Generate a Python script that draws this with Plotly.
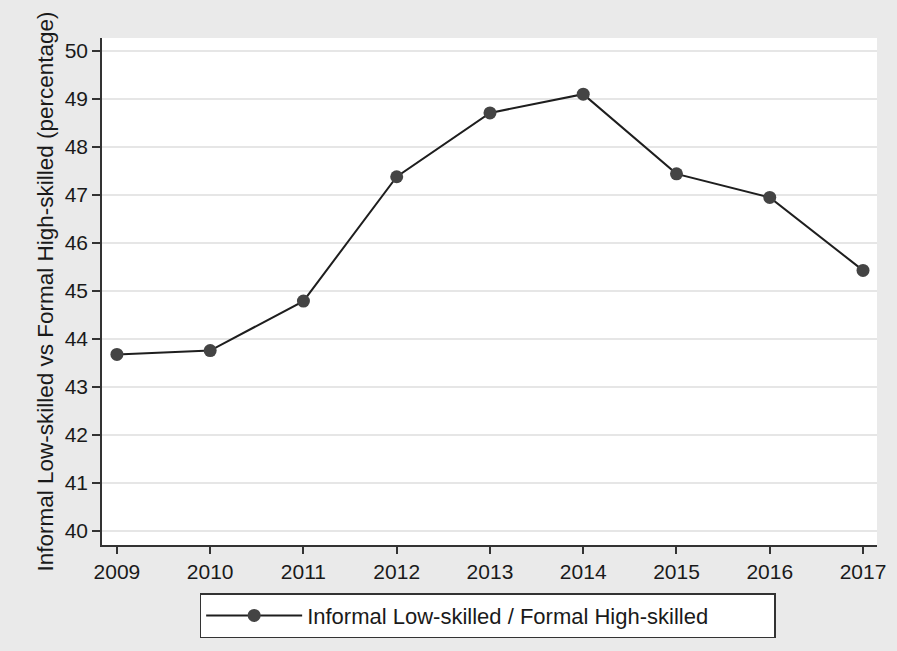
import plotly.graph_objects as go

years = [2009, 2010, 2011, 2012, 2013, 2014, 2015, 2016, 2017]
values = [43.68, 43.76, 44.79, 47.38, 48.71, 49.10, 47.44, 46.95, 45.43]
series_name = "Informal Low-skilled / Formal High-skilled"
y_title = "Informal Low-skilled vs Formal High-skilled (percentage)"
y_ticks = list(range(40, 51))

FONT = "Liberation Sans, Arial, sans-serif"

fig = go.Figure()
fig.add_trace(go.Scatter(
    x=years, y=values, mode="lines+markers", name=series_name,
    line=dict(color="#1e1e1e", width=2),
    marker=dict(color="#444444", size=13, line=dict(width=0)),
))

fig.update_layout(
    width=897, height=651,
    paper_bgcolor="#eaeaea", plot_bgcolor="#ffffff",
    margin=dict(l=102, r=20, t=38, b=106),
    font=dict(family=FONT, color="#1a1a1a", size=21),
    showlegend=True,
    legend=dict(
        orientation="h", x=0.126, xanchor="left", y=-0.095, yanchor="top",
        bgcolor="#ffffff", bordercolor="#333333", borderwidth=1.5,
        font=dict(size=22, family=FONT, color="#1a1a1a"),
        itemwidth=96, entrywidth=462,
    ),
    xaxis=dict(
        range=[2008.84, 2017.15], tickmode="array", tickvals=years,
        ticktext=[str(y) for y in years],
        showgrid=False, zeroline=False,
        showline=True, linecolor="#333333", linewidth=1.5,
        ticks="outside", ticklen=7, tickwidth=1.5, tickcolor="#333333",
        tickfont=dict(size=21),
    ),
    yaxis=dict(
        range=[39.71, 50.27], tickmode="array", tickvals=y_ticks,
        showgrid=True, gridcolor="#e6e6e6", gridwidth=1.5, zeroline=False,
        showline=True, linecolor="#333333", linewidth=1.5,
        ticks="outside", ticklen=8, tickwidth=1.5, tickcolor="#333333",
        tickfont=dict(size=21),
        title=dict(text=y_title, font=dict(size=22.5), standoff=5),
    ),
)

fig.write_html("out.html", config={"displayModeBar": False},
               post_script="document.body.style.margin='0';")
